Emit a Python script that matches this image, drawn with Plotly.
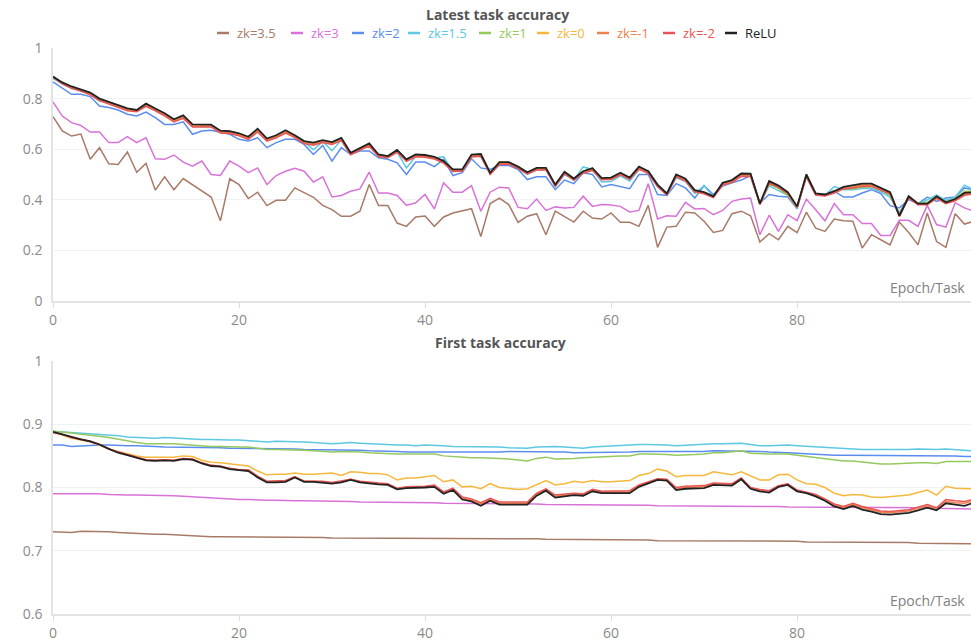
import plotly.graph_objects as go

names = ["zk=3.5", "zk=3", "zk=2", "zk=1.5", "zk=1", "zk=0", "zk=-1", "zk=-2", "ReLU"]
colors = ["#A87A68", "#D872D8", "#5B8DEF", "#5CC8E2", "#95C95E", "#F5B83D", "#F0804E", "#E85555", "#222222"]

# ---------------- Latest task accuracy ----------------
brown_top = [0.729,0.672,0.652,0.660,0.560,0.606,0.542,0.540,0.589,0.509,
             0.544,0.438,0.491,0.440,0.484,0.460,0.434,0.411,0.317,0.483,
             0.460,0.405,0.430,0.377,0.398,0.398,0.447,0.427,0.410,0.378,
             0.361,0.335,0.335,0.355,0.460,0.377,0.377,0.308,0.295,0.332,
             0.336,0.295,0.332,0.348,0.358,0.365,0.255,0.385,0.407,0.381,
             0.311,0.335,0.345,0.262,0.355,0.335,0.312,0.355,0.328,0.324,
             0.348,0.311,0.311,0.295,0.378,0.212,0.292,0.295,0.351,0.348,
             0.315,0.271,0.279,0.345,0.355,0.337,0.233,0.266,0.242,0.295,
             0.270,0.351,0.288,0.275,0.324,0.317,0.315,0.209,0.262,0.242,
             0.222,0.312,0.271,0.222,0.348,0.235,0.212,0.345,0.304,0.315]
pink_top = [0.787,0.731,0.705,0.694,0.668,0.668,0.626,0.626,0.650,0.626,
            0.645,0.562,0.560,0.577,0.549,0.533,0.553,0.500,0.496,0.553,
            0.533,0.507,0.526,0.460,0.496,0.513,0.525,0.513,0.470,0.491,
            0.411,0.417,0.434,0.443,0.509,0.427,0.427,0.417,0.378,0.388,
            0.421,0.364,0.467,0.430,0.430,0.456,0.355,0.430,0.450,0.447,
            0.370,0.365,0.403,0.358,0.372,0.368,0.370,0.414,0.374,0.381,
            0.379,0.374,0.352,0.358,0.464,0.324,0.337,0.335,0.390,0.364,
            0.366,0.341,0.358,0.394,0.403,0.407,0.262,0.339,0.275,0.341,
            0.318,0.403,0.361,0.317,0.385,0.341,0.341,0.306,0.306,0.259,
            0.259,0.319,0.319,0.295,0.378,0.302,0.292,0.388,0.368,0.355]
blue_top = [0.866,0.840,0.817,0.817,0.808,0.771,0.765,0.755,0.738,0.731,
            0.747,0.725,0.698,0.698,0.708,0.659,0.672,0.675,0.668,0.659,
            0.639,0.632,0.645,0.606,0.626,0.639,0.639,0.619,0.579,0.615,
            0.553,0.606,0.579,0.593,0.593,0.566,0.560,0.546,0.500,0.549,
            0.549,0.531,0.560,0.496,0.507,0.562,0.526,0.520,0.536,0.536,
            0.520,0.480,0.491,0.491,0.440,0.478,0.464,0.507,0.500,0.451,
            0.460,0.451,0.444,0.500,0.500,0.421,0.417,0.464,0.447,0.407,
            0.456,0.421,0.454,0.467,0.478,0.496,0.388,0.421,0.414,0.411,
            0.364,0.493,0.421,0.421,0.434,0.411,0.411,0.427,0.440,0.425,
            0.377,0.368,0.401,0.385,0.411,0.394,0.407,0.411,0.447,0.440]
cyan_top = [0.880,0.858,0.840,0.830,0.816,0.790,0.784,0.772,0.756,0.750,
            0.770,0.754,0.734,0.710,0.726,0.690,0.690,0.690,0.668,0.666,
            0.656,0.642,0.672,0.635,0.646,0.668,0.649,0.630,0.598,0.630,
            0.594,0.636,0.580,0.600,0.620,0.575,0.570,0.588,0.526,0.572,
            0.575,0.565,0.570,0.512,0.515,0.575,0.570,0.505,0.540,0.545,
            0.525,0.500,0.518,0.520,0.452,0.500,0.478,0.530,0.520,0.470,
            0.472,0.495,0.474,0.520,0.515,0.452,0.418,0.488,0.472,0.425,
            0.456,0.412,0.460,0.475,0.500,0.500,0.386,0.455,0.438,0.418,
            0.366,0.500,0.422,0.418,0.452,0.440,0.440,0.445,0.445,0.432,
            0.410,0.350,0.410,0.384,0.400,0.420,0.398,0.410,0.458,0.440]
green_top = [0.886,0.862,0.845,0.834,0.820,0.796,0.782,0.769,0.757,0.751,
             0.776,0.757,0.738,0.715,0.731,0.694,0.693,0.695,0.670,0.669,
             0.660,0.646,0.679,0.640,0.652,0.672,0.650,0.628,0.620,0.632,
             0.622,0.641,0.582,0.604,0.621,0.574,0.568,0.594,0.553,0.577,
             0.576,0.568,0.551,0.516,0.516,0.576,0.579,0.503,0.546,0.548,
             0.528,0.505,0.522,0.521,0.456,0.508,0.480,0.511,0.526,0.482,
             0.482,0.503,0.484,0.527,0.508,0.455,0.421,0.495,0.478,0.432,
             0.428,0.412,0.462,0.474,0.502,0.500,0.384,0.462,0.445,0.418,
             0.368,0.502,0.424,0.420,0.436,0.446,0.444,0.450,0.452,0.438,
             0.418,0.340,0.414,0.386,0.390,0.414,0.392,0.404,0.434,0.434]
yellow_top = [0.886,0.862,0.846,0.834,0.821,0.797,0.784,0.771,0.758,0.752,
              0.776,0.758,0.739,0.715,0.731,0.695,0.694,0.694,0.670,0.668,
              0.660,0.646,0.677,0.639,0.652,0.671,0.652,0.629,0.623,0.633,
              0.625,0.641,0.583,0.603,0.619,0.576,0.570,0.594,0.557,0.576,
              0.574,0.567,0.551,0.518,0.518,0.576,0.578,0.505,0.546,0.546,
              0.528,0.507,0.523,0.523,0.458,0.509,0.482,0.511,0.522,0.484,
              0.485,0.504,0.486,0.527,0.510,0.457,0.423,0.497,0.480,0.436,
              0.428,0.412,0.464,0.475,0.500,0.499,0.384,0.470,0.452,0.428,
              0.372,0.497,0.423,0.419,0.432,0.448,0.452,0.460,0.460,0.444,
              0.428,0.336,0.412,0.384,0.384,0.411,0.388,0.401,0.424,0.428]
coral_top = [0.886,0.861,0.844,0.833,0.819,0.795,0.782,0.769,0.756,0.751,
             0.773,0.756,0.736,0.712,0.727,0.692,0.692,0.692,0.668,0.666,
             0.657,0.643,0.673,0.636,0.649,0.668,0.650,0.626,0.620,0.630,
             0.623,0.638,0.582,0.601,0.616,0.575,0.569,0.592,0.556,0.574,
             0.572,0.565,0.549,0.516,0.516,0.573,0.576,0.503,0.544,0.545,
             0.527,0.505,0.521,0.521,0.457,0.507,0.481,0.509,0.520,0.482,
             0.484,0.503,0.484,0.525,0.508,0.456,0.422,0.495,0.479,0.435,
             0.427,0.411,0.462,0.472,0.498,0.497,0.383,0.469,0.452,0.427,
             0.372,0.494,0.422,0.418,0.430,0.446,0.451,0.458,0.458,0.442,
             0.426,0.335,0.410,0.382,0.382,0.409,0.387,0.399,0.422,0.426]
red_top = [0.884,0.858,0.841,0.830,0.815,0.792,0.778,0.766,0.752,0.748,
           0.769,0.752,0.732,0.708,0.722,0.688,0.688,0.688,0.664,0.662,
           0.653,0.639,0.668,0.632,0.645,0.664,0.646,0.622,0.616,0.626,
           0.619,0.634,0.578,0.597,0.612,0.571,0.566,0.588,0.552,0.570,
           0.568,0.561,0.545,0.512,0.513,0.569,0.572,0.500,0.540,0.541,
           0.523,0.502,0.518,0.518,0.454,0.503,0.478,0.505,0.516,0.479,
           0.480,0.499,0.481,0.521,0.504,0.453,0.419,0.491,0.475,0.432,
           0.424,0.409,0.458,0.468,0.493,0.492,0.381,0.466,0.448,0.424,
           0.370,0.490,0.419,0.415,0.427,0.443,0.447,0.454,0.453,0.439,
           0.423,0.334,0.407,0.380,0.380,0.406,0.385,0.396,0.418,0.423]
relu_top = [0.887,0.864,0.848,0.837,0.824,0.800,0.787,0.774,0.761,0.755,
            0.780,0.761,0.742,0.718,0.734,0.698,0.697,0.697,0.673,0.671,
            0.663,0.649,0.681,0.642,0.655,0.675,0.655,0.632,0.626,0.636,
            0.628,0.645,0.586,0.606,0.623,0.579,0.573,0.597,0.560,0.579,
            0.577,0.570,0.553,0.520,0.520,0.579,0.581,0.507,0.549,0.549,
            0.531,0.509,0.526,0.526,0.460,0.511,0.484,0.513,0.525,0.486,
            0.488,0.507,0.488,0.531,0.513,0.460,0.425,0.500,0.483,0.438,
            0.430,0.414,0.467,0.478,0.504,0.503,0.385,0.474,0.456,0.430,
            0.374,0.500,0.425,0.421,0.434,0.451,0.456,0.464,0.464,0.447,
            0.430,0.337,0.414,0.385,0.385,0.414,0.390,0.403,0.427,0.430]

# ---------------- First task accuracy ----------------
brown_bot = [0.730,0.730,0.729,0.731,0.731,0.731,0.730,0.729,0.728,0.727,
             0.726,0.726,0.726,0.725,0.724,0.723,0.723,0.722,0.722,0.722,
             0.722,0.722,0.721,0.721,0.721,0.721,0.721,0.721,0.721,0.721,
             0.720,0.720,0.720,0.720,0.720,0.720,0.720,0.720,0.720,0.720,
             0.720,0.720,0.719,0.719,0.719,0.719,0.719,0.719,0.719,0.719,
             0.719,0.719,0.719,0.718,0.718,0.718,0.718,0.718,0.718,0.718,
             0.718,0.717,0.717,0.717,0.717,0.716,0.716,0.716,0.716,0.716,
             0.716,0.716,0.715,0.715,0.715,0.715,0.715,0.715,0.715,0.715,
             0.715,0.714,0.714,0.714,0.714,0.714,0.713,0.713,0.713,0.713,
             0.713,0.713,0.713,0.712,0.712,0.712,0.712,0.712,0.712,0.711]
pink_bot = [0.790,0.790,0.790,0.790,0.791,0.790,0.789,0.788,0.788,0.788,
            0.788,0.788,0.788,0.787,0.786,0.785,0.784,0.783,0.782,0.782,
            0.781,0.781,0.780,0.780,0.780,0.779,0.779,0.779,0.779,0.779,
            0.778,0.778,0.778,0.777,0.777,0.777,0.777,0.776,0.776,0.776,
            0.776,0.776,0.775,0.775,0.775,0.775,0.775,0.774,0.774,0.774,
            0.774,0.774,0.774,0.773,0.773,0.773,0.773,0.773,0.773,0.772,
            0.772,0.772,0.772,0.772,0.772,0.771,0.771,0.771,0.771,0.771,
            0.771,0.770,0.770,0.770,0.770,0.770,0.770,0.770,0.770,0.769,
            0.769,0.769,0.769,0.769,0.769,0.769,0.769,0.769,0.768,0.768,
            0.768,0.768,0.768,0.768,0.768,0.767,0.767,0.767,0.767,0.766]
blue_bot = [0.867,0.867,0.865,0.866,0.867,0.867,0.867,0.866,0.866,0.866,
            0.866,0.865,0.864,0.864,0.864,0.863,0.863,0.863,0.863,0.862,
            0.862,0.862,0.862,0.861,0.861,0.861,0.861,0.860,0.860,0.860,
            0.860,0.859,0.859,0.859,0.858,0.858,0.857,0.857,0.856,0.856,
            0.856,0.856,0.856,0.855,0.855,0.855,0.856,0.856,0.856,0.857,
            0.857,0.857,0.857,0.856,0.856,0.856,0.855,0.855,0.856,0.856,
            0.856,0.856,0.856,0.857,0.857,0.857,0.856,0.856,0.857,0.857,
            0.857,0.858,0.858,0.858,0.858,0.857,0.857,0.856,0.856,0.855,
            0.854,0.853,0.852,0.852,0.851,0.851,0.851,0.851,0.851,0.851,
            0.851,0.851,0.851,0.851,0.851,0.850,0.850,0.850,0.849,0.849]
cyan_bot = [0.889,0.888,0.887,0.886,0.886,0.885,0.884,0.882,0.880,0.879,
            0.878,0.878,0.879,0.878,0.877,0.877,0.876,0.876,0.875,0.875,
            0.875,0.874,0.873,0.872,0.873,0.873,0.873,0.872,0.871,0.870,
            0.869,0.870,0.871,0.870,0.869,0.868,0.868,0.867,0.867,0.866,
            0.867,0.867,0.866,0.865,0.865,0.864,0.864,0.865,0.864,0.863,
            0.862,0.862,0.864,0.865,0.865,0.864,0.863,0.862,0.864,0.865,
            0.866,0.866,0.867,0.868,0.868,0.868,0.867,0.866,0.867,0.868,
            0.869,0.869,0.869,0.870,0.870,0.868,0.866,0.866,0.867,0.867,
            0.866,0.865,0.864,0.863,0.862,0.861,0.861,0.860,0.860,0.860,
            0.859,0.860,0.860,0.861,0.860,0.860,0.861,0.860,0.859,0.858]
green_bot = [0.889,0.888,0.886,0.884,0.883,0.881,0.879,0.876,0.874,0.871,
             0.869,0.869,0.870,0.869,0.868,0.867,0.865,0.865,0.865,0.864,
             0.864,0.864,0.862,0.860,0.860,0.860,0.859,0.859,0.858,0.857,
             0.856,0.857,0.857,0.856,0.855,0.854,0.853,0.853,0.853,0.853,
             0.854,0.853,0.850,0.849,0.847,0.847,0.847,0.847,0.846,0.845,
             0.843,0.842,0.846,0.848,0.845,0.845,0.846,0.847,0.848,0.848,
             0.849,0.850,0.850,0.853,0.853,0.853,0.852,0.851,0.851,0.852,
             0.853,0.855,0.855,0.856,0.858,0.854,0.853,0.853,0.853,0.853,
             0.851,0.849,0.848,0.846,0.843,0.842,0.842,0.840,0.838,0.837,
             0.837,0.838,0.838,0.839,0.839,0.838,0.841,0.841,0.841,0.841]
yellow_bot = [0.888,0.883,0.878,0.875,0.872,0.867,0.861,0.857,0.853,0.850,
              0.848,0.848,0.849,0.848,0.850,0.849,0.843,0.840,0.839,0.837,
              0.835,0.834,0.826,0.820,0.821,0.821,0.823,0.821,0.821,0.822,
              0.823,0.819,0.825,0.824,0.822,0.822,0.820,0.812,0.815,0.815,
              0.817,0.819,0.809,0.812,0.801,0.802,0.798,0.806,0.800,0.798,
              0.797,0.798,0.805,0.811,0.804,0.806,0.810,0.808,0.811,0.809,
              0.809,0.810,0.811,0.819,0.822,0.829,0.826,0.817,0.819,0.819,
              0.819,0.825,0.823,0.820,0.825,0.818,0.812,0.812,0.820,0.821,
              0.812,0.806,0.805,0.800,0.791,0.787,0.789,0.788,0.785,0.784,
              0.785,0.786,0.788,0.792,0.796,0.788,0.802,0.799,0.798,0.798]
coral_bot = [0.887,0.884,0.879,0.876,0.873,0.868,0.861,0.856,0.852,0.847,
             0.844,0.843,0.843,0.843,0.846,0.844,0.839,0.835,0.833,0.830,
             0.828,0.827,0.817,0.809,0.809,0.810,0.817,0.810,0.810,0.809,
             0.807,0.809,0.813,0.809,0.807,0.806,0.805,0.798,0.800,0.800,
             0.801,0.803,0.792,0.798,0.783,0.780,0.774,0.781,0.775,0.775,
             0.775,0.775,0.789,0.797,0.786,0.788,0.790,0.789,0.796,0.793,
             0.793,0.792,0.793,0.803,0.808,0.813,0.812,0.798,0.800,0.801,
             0.801,0.806,0.805,0.805,0.814,0.799,0.796,0.794,0.802,0.805,
             0.795,0.792,0.788,0.781,0.772,0.768,0.773,0.768,0.764,0.761,
             0.760,0.762,0.763,0.767,0.771,0.766,0.778,0.776,0.775,0.779]
red_bot = [0.887,0.884,0.879,0.876,0.873,0.868,0.861,0.856,0.852,0.848,
           0.844,0.843,0.844,0.843,0.846,0.845,0.839,0.835,0.834,0.830,
           0.828,0.828,0.818,0.810,0.810,0.811,0.817,0.810,0.810,0.810,
           0.808,0.810,0.813,0.810,0.808,0.807,0.806,0.799,0.801,0.801,
           0.802,0.804,0.793,0.799,0.785,0.782,0.776,0.783,0.777,0.777,
           0.777,0.777,0.791,0.798,0.788,0.790,0.791,0.790,0.797,0.794,
           0.794,0.794,0.795,0.804,0.809,0.814,0.813,0.800,0.802,0.803,
           0.803,0.807,0.806,0.806,0.815,0.800,0.797,0.795,0.803,0.806,
           0.796,0.793,0.789,0.782,0.774,0.770,0.775,0.770,0.766,0.763,
           0.762,0.764,0.765,0.769,0.773,0.768,0.781,0.779,0.778,0.781]
relu_bot = [0.888,0.884,0.879,0.876,0.873,0.868,0.861,0.855,0.851,0.847,
            0.843,0.842,0.843,0.842,0.845,0.844,0.838,0.834,0.833,0.829,
            0.827,0.826,0.816,0.808,0.808,0.809,0.816,0.809,0.809,0.808,
            0.806,0.808,0.812,0.808,0.806,0.805,0.804,0.797,0.799,0.799,
            0.800,0.801,0.790,0.796,0.781,0.778,0.771,0.779,0.773,0.773,
            0.773,0.773,0.787,0.795,0.784,0.786,0.788,0.787,0.794,0.791,
            0.791,0.790,0.791,0.801,0.806,0.812,0.811,0.796,0.798,0.799,
            0.799,0.804,0.803,0.803,0.813,0.798,0.794,0.792,0.801,0.804,
            0.794,0.791,0.786,0.779,0.770,0.766,0.771,0.765,0.762,0.758,
            0.757,0.759,0.760,0.764,0.768,0.764,0.775,0.773,0.771,0.776]

top_series = [brown_top, pink_top, blue_top, cyan_top, green_top, yellow_top, coral_top, red_top, relu_top]
bot_series = [brown_bot, pink_bot, blue_bot, cyan_bot, green_bot, yellow_bot, coral_bot, red_bot, relu_bot]

top_yticks = [0, 0.2, 0.4, 0.6, 0.8, 1]
top_ylabels = ["0", "0.2", "0.4", "0.6", "0.8", "1"]
bot_yticks = [0.6, 0.7, 0.8, 0.9, 1.0]
bot_ylabels = ["0.6", "0.7", "0.8", "0.9", "1"]
xticks = [0, 20, 40, 60, 80]

# ---- layout geometry (page margin removed by post_script) ----
W, H = 971, 642
ML, MR, MT, MB = 53, 0, 48, 28
PW = W - ML - MR
PH = H - MT - MB

def px_to_paper_x(page_x):
    return (page_x - ML) / PW

def px_to_paper_y(page_y):
    return (H - MB - page_y) / PH

FONT = "Open Sans, Noto Sans, sans-serif"
fig = go.Figure()
for name, col, ys in zip(names, colors, top_series):
    fig.add_trace(go.Scatter(
        x=list(range(len(ys))), y=ys, mode="lines", name=name,
        line=dict(color=col, width=1.8 if name == "ReLU" else 1.5),
        xaxis="x", yaxis="y", showlegend=False))
for name, col, ys in zip(names, colors, bot_series):
    fig.add_trace(go.Scatter(
        x=list(range(len(ys))), y=ys, mode="lines", name=name,
        line=dict(color=col, width=1.8 if name == "ReLU" else 1.5),
        xaxis="x2", yaxis="y2", showlegend=False))

# ---- hand-made legend (short swatch + coloured label) ----
legend_page_x = [217, 291, 352, 408, 479, 537, 597, 663, 725]
legend_page_y = 33
shapes = []
annotations = []
ly = px_to_paper_y(legend_page_y)
for name, col, lx in zip(names, colors, legend_page_x):
    shapes.append(dict(type="line", xref="paper", yref="paper",
                       x0=px_to_paper_x(lx), x1=px_to_paper_x(lx + 12), y0=ly, y1=ly,
                       line=dict(color=col, width=2.5)))
    annotations.append(dict(text=name, xref="paper", yref="paper",
                            x=px_to_paper_x(lx + 18), y=ly, xanchor="left", yanchor="middle",
                            showarrow=False, font=dict(family=FONT, size=13, color=col)))

annotations += [
    dict(text="<b>Latest task accuracy</b>", xref="paper", yref="paper",
         x=px_to_paper_x(497), y=px_to_paper_y(14),
         xanchor="center", yanchor="middle", showarrow=False,
         font=dict(family=FONT, size=14, color="#555555")),
    dict(text="<b>First task accuracy</b>", xref="paper", yref="paper",
         x=px_to_paper_x(500), y=px_to_paper_y(343),
         xanchor="center", yanchor="middle", showarrow=False,
         font=dict(family=FONT, size=14, color="#555555")),
    dict(text="Epoch/Task", xref="x domain", yref="y domain", x=0.996, y=0.0,
         xanchor="right", yanchor="bottom", yshift=2, showarrow=False,
         font=dict(family=FONT, size=14, color="#808080")),
    dict(text="Epoch/Task", xref="x2 domain", yref="y2 domain", x=0.996, y=0.0,
         xanchor="right", yanchor="bottom", yshift=2, showarrow=False,
         font=dict(family=FONT, size=14, color="#808080")),
]

axis_common = dict(showline=True, linecolor="#e3e3e3", linewidth=1.5, zeroline=False,
                   tickfont=dict(family=FONT, size=14, color="#8a8a8a"))
top_dom = [px_to_paper_y(301), 1]
bot_dom = [0, px_to_paper_y(361)]
fig.update_layout(
    width=W, height=H,
    margin=dict(l=ML, r=MR, t=MT, b=MB),
    paper_bgcolor="white", plot_bgcolor="white",
    font=dict(family=FONT, color="#666"),
    showlegend=False,
    xaxis=dict(domain=[0, 1], anchor="y", range=[0, 98.7], tickvals=xticks,
               showgrid=False, ticks="outside", ticklen=5, tickcolor="#dddddd", **axis_common),
    yaxis=dict(domain=top_dom, anchor="x", range=[0, 1], tickvals=top_yticks, ticktext=top_ylabels,
               showgrid=True, gridcolor="#f1f1f1", ticks="", ticklabelstandoff=6, **axis_common),
    xaxis2=dict(domain=[0, 1], anchor="y2", range=[0, 98.7], tickvals=xticks,
                showgrid=False, ticks="outside", ticklen=5, tickcolor="#dddddd", **axis_common),
    yaxis2=dict(domain=bot_dom, anchor="x2", range=[0.6, 1], tickvals=bot_yticks, ticktext=bot_ylabels,
                showgrid=True, gridcolor="#f1f1f1", ticks="", ticklabelstandoff=6, **axis_common),
    shapes=shapes,
    annotations=annotations,
)
fig.write_html("out.html", config={"displayModeBar": False},
               post_script="document.body.style.margin='0px';document.body.style.overflow='hidden';")
